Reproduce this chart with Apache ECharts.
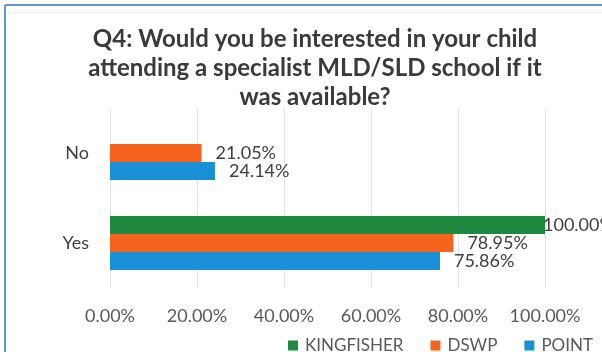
<!DOCTYPE html>
<html>
<head>
<meta charset="utf-8">
<script src="https://cdn.jsdelivr.net/npm/echarts@6/dist/echarts.min.js"></script>
<style>
  html, body { margin: 0; padding: 0; background: #ffffff; }
  #chart { width: 602px; height: 352px; }
</style>
</head>
<body>
<div id="chart"></div>
<script>
// Survey answers, share of respondents per group
const categories = ['No', 'Yes'];
const seriesNames = ['KINGFISHER', 'DSWP', 'POINT'];
const kingfisher = [null, 100.00];
const dswp = [21.05, 78.95];
const point = [24.14, 75.86];
const tickValues = [0, 20, 40, 60, 80, 100];

const colors = ['#1f8a3f', '#f4641f', '#1a90d8'];
const font = 'Lato, "Open Sans", sans-serif';
const textColor = '#404040';

function pct(v) { return v.toFixed(2) + '%'; }

function labelFor(values) {
  return values.map(function (v) {
    if (v === null) return null;
    return {
      value: v,
      label: { distance: v >= 100 ? -2 : 14 }
    };
  });
}

const chart = echarts.init(document.getElementById('chart'), null, { renderer: 'canvas' });

const seriesData = [kingfisher, dswp, point];

chart.setOption({
  animation: false,
  backgroundColor: '#ffffff',
  color: colors,
  title: {
    text: 'Q4: Would you be interested in your child\nattending a specialist MLD/SLD school if it\nwas available?',
    left: 310,
    textAlign: 'center',
    top: 20,
    textStyle: {
      fontFamily: font,
      fontWeight: 'bold',
      fontSize: 24,
      lineHeight: 29,
      color: '#3a3a3a'
    }
  },
  legend: {
    data: seriesNames,
    left: 283,
    top: 332,
    width: 330,
    itemWidth: 10,
    itemHeight: 10,
    itemGap: 27,
    icon: 'rect',
    textStyle: { fontFamily: font, fontSize: 17, color: '#595959', padding: [0, 0, 0, 2] }
  },
  grid: { left: 110, right: 57, top: 108, bottom: 64, containLabel: false },
  xAxis: {
    type: 'value',
    min: tickValues[0],
    max: tickValues[tickValues.length - 1],
    interval: 20,
    axisLine: { show: false },
    axisTick: { show: false },
    splitLine: { lineStyle: { color: '#e3e3e3', width: 1 } },
    axisLabel: {
      formatter: function (v) { return pct(v); },
      fontFamily: font,
      fontSize: 18,
      color: '#595959',
      margin: 19
    }
  },
  yAxis: {
    type: 'category',
    data: categories,
    inverse: true,
    axisLine: { show: false },
    axisTick: { show: false },
    axisLabel: { fontFamily: font, fontSize: 18, color: '#404040', margin: 21 }
  },
  series: seriesNames.map(function (name, i) {
    return {
      name: name,
      type: 'bar',
      data: labelFor(seriesData[i]),
      barGap: '0%',
      barCategoryGap: '40%',
      itemStyle: { color: colors[i] },
      label: {
        show: true,
        position: 'right',
        formatter: function (p) { return pct(p.value); },
        fontFamily: font,
        fontSize: 18,
        color: textColor
      }
    };
  }),
  graphic: [
    {
      type: 'line',
      shape: { x1: 5, y1: 5, x2: 602, y2: 5 },
      style: { stroke: '#5b9bd5', lineWidth: 2 }
    },
    {
      type: 'line',
      shape: { x1: 5, y1: 5, x2: 5, y2: 352 },
      style: { stroke: '#5b9bd5', lineWidth: 2 }
    },
    {
      type: 'line',
      shape: { x1: 12, y1: 12.5, x2: 602, y2: 12.5 },
      style: { stroke: '#ececec', lineWidth: 1 }
    }
  ]
});
</script>
</body>
</html>
